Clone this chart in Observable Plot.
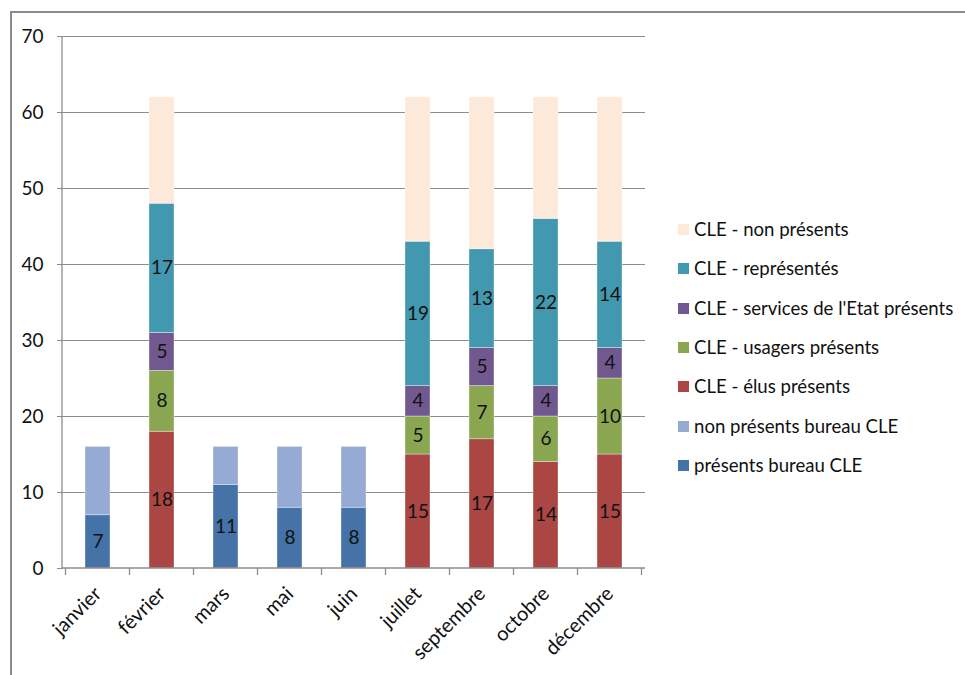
<!DOCTYPE html>
<html><head><meta charset="utf-8">
<script src="https://cdn.jsdelivr.net/npm/d3@7"></script>
<script src="https://cdn.jsdelivr.net/npm/@observablehq/plot@0.6"></script>
<style>
body{margin:0;background:#fff;font-family:Lato, sans-serif}
#wrap{position:relative;width:965px;height:675px;overflow:hidden}
#frame{position:absolute;left:10px;top:11px;width:980px;height:700px;border-left:2px solid #8c8c8c;border-top:2px solid #8c8c8c;box-sizing:border-box}
#chart{position:absolute;left:0;top:0}
#legend{position:absolute;left:678px;top:0}
.item{position:absolute;left:0;display:flex;align-items:center;white-space:nowrap;font-size:18.6px;color:#111;height:20px}
.sw{width:11px;height:11px;margin-right:5px;flex:none}
</style>
</head><body>
<div id="wrap"><div id="frame"></div><div id="chart"></div><div id="legend"></div></div>
<script>
const months = ["janvier","février","mars","mai","juin","juillet","septembre","octobre","décembre"];
const seriesNames = ["présents bureau CLE","non présents bureau CLE","CLE - élus présents","CLE - usagers présents","CLE - services de l'Etat présents","CLE - représentés","CLE - non présents"];
const seriesColors = ["#4572A7","#95ABD4","#AA4643","#8AA651","#71588F","#4298AF","#FDE9DA"];
const labelled = [true,false,true,true,true,true,false];
const presentsBureau    = [7,0,11,8,8,0,0,0,0];
const nonPresentsBureau = [9,0,5,8,8,0,0,0,0];
const elus              = [0,18,0,0,0,15,17,14,15];
const usagers           = [0,8,0,0,0,5,7,6,10];
const services          = [0,5,0,0,0,4,5,4,4];
const representes       = [0,17,0,0,0,19,13,22,14];
const nonPresents       = [0,14,0,0,0,19,20,16,19];
const yTicks = [0,10,20,30,40,50,60,70];
const legendOrder = [6,5,4,3,2,1,0];

const seriesValues = [presentsBureau,nonPresentsBureau,elus,usagers,services,representes,nonPresents];
const rows = [];
seriesValues.forEach((vals, si) => vals.forEach((v, mi) => {
  if (v > 0) rows.push({month: months[mi], series: seriesNames[si], value: v, label: labelled[si] ? String(v) : null});
}));

function frameLines(index, scales, values, dims) {
  const x = scales.x;
  const g = d3.create("svg:g").attr("stroke", "#8c8c8c").attr("stroke-width", 1.3);
  const x0 = dims.marginLeft, x1 = dims.width - dims.marginRight;
  const y0 = dims.height - dims.marginBottom, yt = dims.marginTop;
  g.append("line").attr("x1", x0).attr("x2", x0).attr("y1", yt).attr("y2", y0 + 1);
  g.append("line").attr("x1", x0).attr("x2", x1).attr("y1", y0).attr("y2", y0);
  const step = (x(months[1]) - x(months[0]));
  const bw = x.bandwidth ? x.bandwidth() : 0;
  const bounds = months.map(m => x(m) + bw / 2 - step / 2).concat([x(months[months.length-1]) + bw/2 + step/2]);
  for (const b of bounds) g.append("line").attr("x1", b).attr("x2", b).attr("y1", y0).attr("y2", y0 + 7);
  return g.node();
}

const chart = Plot.plot({
  width: 965, height: 675,
  marginLeft: 62, marginRight: 320, marginTop: 36, marginBottom: 107,
  style: {fontFamily: "Lato, sans-serif", fontSize: "19px", color: "#111", background: "transparent"},
  x: {type: "band", domain: months, paddingInner: 0.61, paddingOuter: 0.305, label: null},
  y: {domain: [0, 70], label: null},
  color: {domain: seriesNames, range: seriesColors},
  marks: [
    Plot.ruleY(yTicks.filter(t => t > 0), {stroke: "#8c8c8c", strokeWidth: 1.2}),
    Plot.barY(rows, Plot.stackY({x: "month", y: "value", fill: "series", order: seriesNames, stroke: "#fff", strokeWidth: 0.6, strokeOpacity: 0.6})),
    Plot.text(rows, Plot.stackY({x: "month", y: "value", z: "series", order: seriesNames, text: "label", fill: "#111", fontSize: 19})),
    Plot.axisY({ticks: yTicks, tickSize: 5, tickPadding: 14, stroke: "#8c8c8c", fontSize: 19}),
    Plot.axisX({tickSize: 0, tickRotate: -45, tickPadding: 22, fontSize: 20}),
    frameLines
  ]
});
document.getElementById("chart").appendChild(chart);

const legend = document.getElementById("legend");
const rowY = [229, 268, 308, 347, 386, 426, 465];
legendOrder.forEach((si, i) => {
  const it = document.createElement("div");
  it.className = "item";
  it.style.top = (rowY[i] - 10) + "px";
  const sw = document.createElement("span");
  sw.className = "sw"; sw.style.background = seriesColors[si];
  it.appendChild(sw);
  it.appendChild(document.createTextNode(seriesNames[si]));
  legend.appendChild(it);
});
</script>
</body></html>
